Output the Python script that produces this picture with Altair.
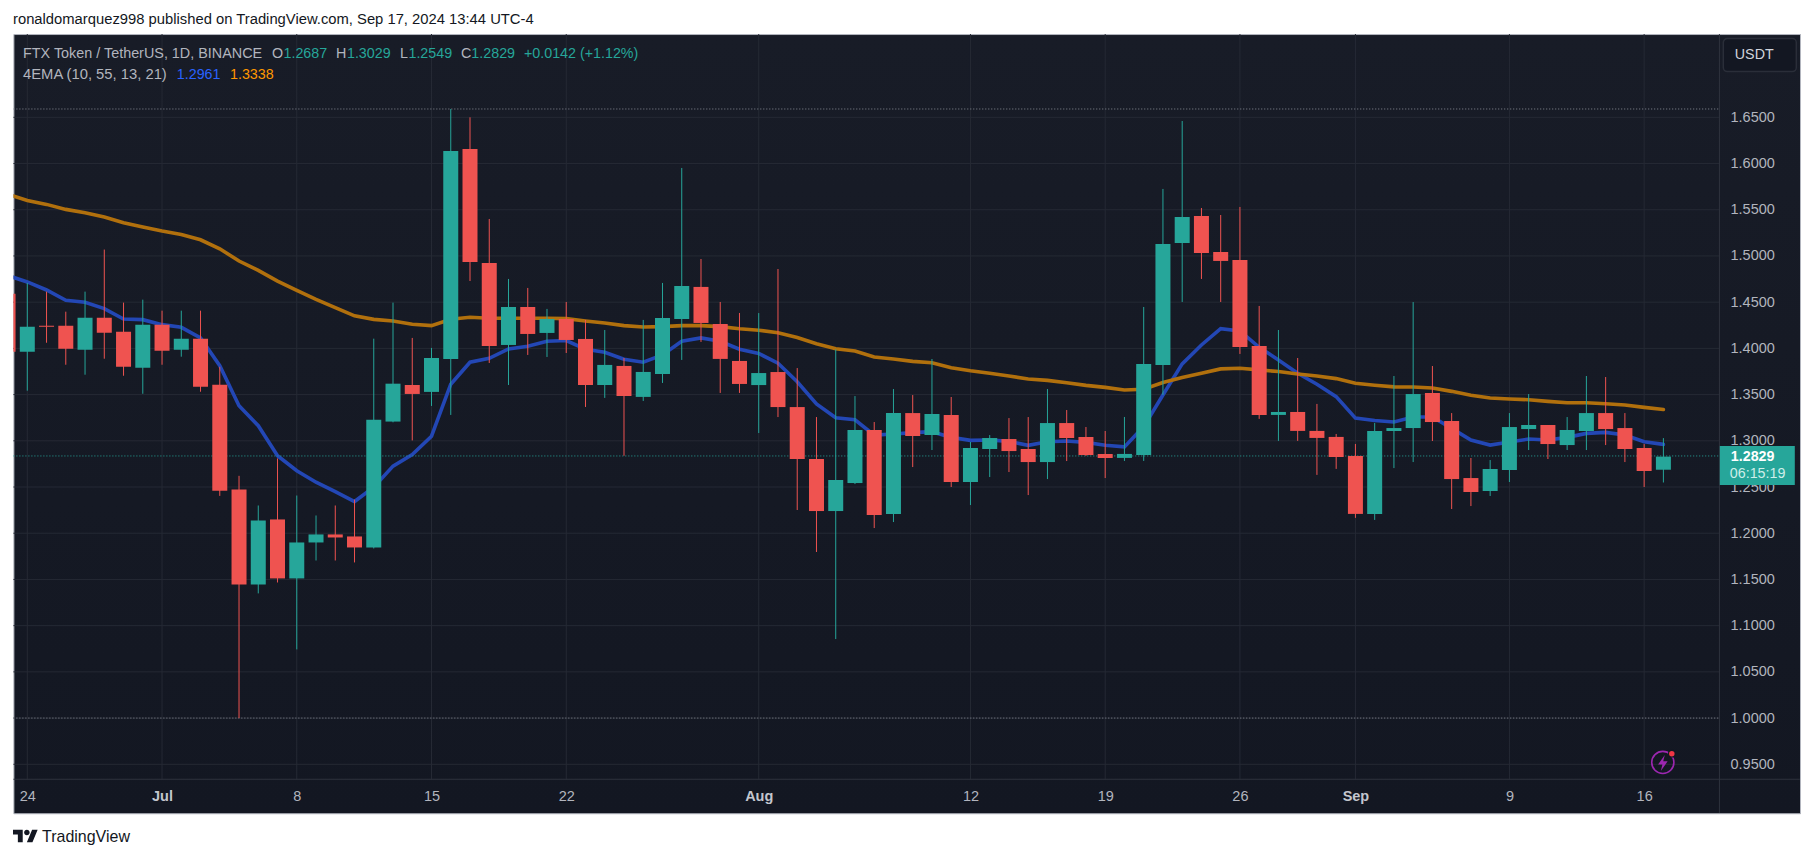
import altair as alt
import pandas as pd

# day number, 0 = 24 Jun 2024
days = list(range(-1, 86))
opens = [1.4592,1.3964,1.4245,1.4245,1.3986,1.4332,1.4181,1.3791,1.4256,1.3986,
         1.4105,1.3607,1.2473,1.1446,1.2149,1.1511,1.1900,1.1987,1.1965,1.1846,
         1.3208,1.3604,1.3529,1.3886,1.6157,1.4924,1.4037,1.4448,1.4167,1.4318,
         1.4102,1.3604,1.3810,1.3475,1.3723,1.4318,1.4665,1.4264,1.3864,1.3603,
         1.3744,1.3365,1.2803,1.2240,1.2543,1.3117,1.2208,1.3300,1.3063,1.3279,
         1.2554,1.2911,1.3019,1.2911,1.2770,1.3192,1.3041,1.2857,1.2815,1.2847,
         1.3821,1.5141,1.5433,1.5043,1.4957,1.4026,1.3280,1.3312,1.3107,1.3042,
         1.2836,1.2209,1.3106,1.3138,1.3517,1.3214,1.2597,1.2457,1.2684,1.3127,
         1.3171,1.2954,1.3106,1.3300,1.3138,1.2922,1.2687]
highs = [1.4592,1.4708,1.4614,1.4397,1.4614,1.5069,1.4495,1.4527,1.4408,1.4408,
         1.4408,1.3801,1.2621,1.2300,1.2809,1.2408,1.2192,1.2300,1.2364,1.4105,
         1.4495,1.4113,1.4005,1.6590,1.6500,1.5400,1.4751,1.4654,1.4427,1.4502,
         1.4308,1.4199,1.3896,1.4308,1.4708,1.5952,1.4967,1.4502,1.4383,1.4382,
         1.4859,1.3787,1.3257,1.3989,1.3484,1.3203,1.3560,1.3495,1.3885,1.3474,
         1.2987,1.3062,1.3246,1.3257,1.3560,1.3333,1.3149,1.3106,1.3258,1.4448,
         1.5725,1.6460,1.5519,1.5443,1.5530,1.4459,1.4199,1.3896,1.3399,1.3074,
         1.2966,1.3193,1.3701,1.4501,1.3809,1.3300,1.2814,1.2792,1.3300,1.3506,
         1.3171,1.3257,1.3701,1.3690,1.3300,1.2965,1.3029]
lows = [1.3964,1.3542,1.4061,1.3823,1.3715,1.3888,1.3704,1.3509,1.3823,1.3910,
        1.3531,1.2404,1.0000,1.1349,1.1467,1.0743,1.1705,1.1705,1.1684,1.1835,
        1.3200,1.3004,1.3377,1.3280,1.4729,1.3842,1.3604,1.3929,1.3907,1.3950,
        1.3366,1.3464,1.2838,1.3431,1.3626,1.3875,1.4070,1.3518,1.3518,1.3084,
        1.3257,1.2251,1.1797,1.0855,1.2532,1.2056,1.2121,1.2716,1.2900,1.2500,
        1.2305,1.2608,1.2662,1.2413,1.2586,1.2781,1.2835,1.2597,1.2782,1.2782,
        1.3496,1.4502,1.4751,1.4502,1.3940,1.3237,1.2999,1.2999,1.2631,1.2696,
        1.2166,1.2144,1.2705,1.2770,1.2998,1.2262,1.2294,1.2403,1.2554,1.2900,
        1.2803,1.2900,1.2900,1.2954,1.2770,1.2500,1.2549]
closes = [1.3964,1.4235,1.4235,1.3996,1.4332,1.4170,1.3801,1.4256,1.3975,1.4105,
          1.3585,1.2459,1.1446,1.2138,1.1511,1.1900,1.1987,1.1954,1.1846,1.3229,
          1.3618,1.3507,1.3896,1.6136,1.4935,1.4026,1.4448,1.4156,1.4318,1.4091,
          1.3604,1.3821,1.3485,1.3745,1.4329,1.4675,1.4275,1.3886,1.3615,1.3733,
          1.3365,1.2803,1.2240,1.2576,1.3117,1.2197,1.3300,1.3052,1.3290,1.2554,
          1.2922,1.3030,1.2889,1.2770,1.3192,1.3030,1.2846,1.2814,1.2858,1.3832,
          1.5130,1.5422,1.5031,1.4946,1.4015,1.3280,1.3312,1.3107,1.3031,1.2825,
          1.2209,1.3107,1.3138,1.3506,1.3203,1.2586,1.2446,1.2695,1.3149,1.3171,
          1.2965,1.3117,1.3300,1.3127,1.2911,1.2673,1.2829]
ema_fast = [1.4787,1.4719,1.4632,1.4520,1.4499,1.4430,1.4318,1.4311,1.4257,1.4228,
            1.4113,1.3813,1.3379,1.3163,1.2838,1.2676,1.2552,1.2451,1.2343,1.2499,
            1.2726,1.2852,1.3050,1.3612,1.3850,1.3893,1.3994,1.4023,1.4077,1.4085,
            1.3991,1.3958,1.3882,1.3850,1.3929,1.4077,1.4113,1.4077,1.3991,1.3945,
            1.3840,1.3639,1.3398,1.3250,1.3228,1.3062,1.3073,1.3088,1.3099,1.3037,
            1.3005,1.3008,1.2994,1.2951,1.2990,1.2998,1.2983,1.2951,1.2934,1.3154,
            1.3496,1.3832,1.4037,1.4214,1.4189,1.4012,1.3875,1.3731,1.3612,1.3478,
            1.3245,1.3220,1.3204,1.3257,1.3257,1.3135,1.3008,1.2954,1.2987,1.3019,
            1.3008,1.3037,1.3080,1.3091,1.3062,1.2990,1.2961]
ema_slow = [1.5666,1.5601,1.5558,1.5504,1.5468,1.5421,1.5359,1.5312,1.5269,1.5233,
            1.5175,1.5078,1.4945,1.4844,1.4728,1.4627,1.4530,1.4440,1.4352,1.4314,
            1.4296,1.4261,1.4246,1.4315,1.4336,1.4326,1.4326,1.4326,1.4326,1.4322,
            1.4297,1.4275,1.4246,1.4232,1.4235,1.4246,1.4246,1.4235,1.4213,1.4196,
            1.4170,1.4118,1.4050,1.3996,1.3971,1.3906,1.3885,1.3859,1.3845,1.3791,
            1.3758,1.3730,1.3701,1.3668,1.3654,1.3629,1.3600,1.3578,1.3550,1.3557,
            1.3630,1.3684,1.3731,1.3778,1.3785,1.3767,1.3749,1.3723,1.3702,1.3673,
            1.3622,1.3601,1.3584,1.3582,1.3571,1.3535,1.3492,1.3463,1.3452,1.3445,
            1.3427,1.3412,1.3412,1.3401,1.3387,1.3362,1.3338]

tick_days = [0, 7, 14, 21, 28, 38, 49, 56, 63, 69, 77, 84]
tick_labels = ["24", "Jul", "8", "15", "22", "Aug", "12", "19", "26", "Sep", "9", "16"]
month_days = [7, 38, 69]
price_ticks = [0.95, 1.0, 1.05, 1.1, 1.15, 1.2, 1.25, 1.3, 1.35, 1.4, 1.45, 1.5, 1.55, 1.6, 1.65]
period_high = 1.6590
period_low = 1.0000
last_price = 1.2836

FONT = "Liberation Sans"
UP, DOWN = "#26a69a", "#ef5350"
GRID = "#252934"
OX, OY = 13.4, 34.0
PANE_W, PANE_H = 1706.2, 745.3
FRAME_W, FRAME_H = 1786.8, 779.3


def px(X):
    return X - OX


def py(Y):
    return Y - OY


candles = pd.DataFrame({"day": days, "o": opens, "h": highs, "l": lows, "c": closes,
                        "fast": ema_fast, "slow": ema_slow})
candles["dir"] = ["up" if c >= o else "down" for o, c in zip(opens, closes)]

x_scale = alt.Scale(domain=[-0.722, 87.91], range=[0, PANE_W], nice=False, zero=False, padding=0)
y_scale = alt.Scale(domain=[0.9338, 1.7401], range=[PANE_H, 0], nice=False, zero=False, padding=0)
color_scale = alt.Scale(domain=["up", "down"], range=[UP, DOWN])

label_expr = "[" + ",".join(f"'{t}'" for t in tick_labels) + "][indexof(" + str(tick_days) + ",datum.value)]"
month_test = "indexof(" + str(month_days) + ",datum.value)>=0"

x_axis = alt.Axis(values=tick_days, labelExpr=label_expr, title=None, grid=False,
                  domain=False, ticks=False, offset=-(FRAME_H - PANE_H),
                  labelFont=FONT, labelFontSize=14.5, labelPadding=10, labelFlush=False,
                  labelOverlap=False,
                  labelColor=alt.expr(month_test + "?'#c3c6ce':'#b2b5be'"),
                  labelFontWeight=alt.expr(month_test + "?'bold':'normal'"))
y_axis = alt.Axis(values=price_ticks, format=".4f", title=None, orient="right", grid=False,
                  domain=False, ticks=False,
                  offset=-(FRAME_W - PANE_W), labelFont=FONT, labelFontSize=14.5,
                  labelColor="#b2b5be", labelPadding=10.6, labelAlign="left",
                  labelOverlap=False, labelFlush=False)

X = alt.X("day:Q", scale=x_scale, axis=x_axis)


def price(field):
    return alt.Y(field, scale=y_scale, axis=y_axis)


base = alt.Chart(candles)

# the pane's grid: the axes sit inside the frame, so their own grids would be pushed off the pane
grid_h = alt.Chart(pd.DataFrame({"p": price_ticks})).mark_rule(color=GRID, strokeWidth=1).encode(
    y=price("p:Q"), x=alt.value(0), x2=alt.value(PANE_W))
grid_v = alt.Chart(pd.DataFrame({"day": tick_days})).mark_rule(color=GRID, strokeWidth=1).encode(
    x=X, y=alt.value(0), y2=alt.value(PANE_H))

ema_fast_line = base.mark_line(color="#2347b5", strokeWidth=3.6, clip=True, strokeCap="round").encode(
    x=X, y=price("fast:Q"))
ema_slow_line = base.mark_line(color="#b1700d", strokeWidth=3.6, clip=True, strokeCap="round").encode(
    x=X, y=price("slow:Q"))
wicks = base.mark_rule(strokeWidth=1, clip=True).encode(
    x=X, y=price("l:Q"), y2="h:Q",
    color=alt.Color("dir:N", scale=color_scale, legend=None))
bodies = base.mark_bar(size=15, clip=True).encode(
    x=X, y=price("o:Q"), y2="c:Q",
    color=alt.Color("dir:N", scale=color_scale, legend=None))


def level(value, color):
    return alt.Chart(pd.DataFrame({"p": [value]})).mark_rule(
        color=color, strokeWidth=1, strokeDash=[1, 2]).encode(
        y=price("p:Q"), x=alt.value(0), x2=alt.value(PANE_W))


def text(t, X_, Y_, color, size=14.3, weight="normal", align="left", font=FONT):
    return alt.Chart(pd.DataFrame({"t": [t]})).mark_text(
        color=color, fontSize=size, fontWeight=weight, align=align, baseline="middle", font=font
    ).encode(x=alt.value(px(X_)), y=alt.value(py(Y_)), text="t:N")


def rule(x1, y1, x2, y2, color="#2a2e39"):
    return alt.Chart(pd.DataFrame({"a": [0]})).mark_rule(color=color, strokeWidth=1).encode(
        x=alt.value(px(x1)), x2=alt.value(px(x2)), y=alt.value(py(y1)), y2=alt.value(py(y2)))


def box(x1, y1, x2, y2, fill, stroke=None, radius=0):
    kw = {"stroke": stroke, "strokeWidth": 1.5} if stroke else {}
    return alt.Chart(pd.DataFrame({"a": [0]})).mark_rect(fill=fill, cornerRadius=radius, **kw).encode(
        x=alt.value(px(x1)), x2=alt.value(px(x2)), y=alt.value(py(y1)), y2=alt.value(py(y2)))


def glyph(shape, X_, Y_, size, fill=None, stroke=None, sw=0):
    kw = {}
    if fill:
        kw["fill"] = fill
        kw["filled"] = True
    if stroke:
        kw["stroke"] = stroke
        kw["strokeWidth"] = sw
    return alt.Chart(pd.DataFrame({"a": [0]})).mark_point(shape=shape, size=size, opacity=1, **kw).encode(
        x=alt.value(px(X_)), y=alt.value(py(Y_)))


LOGO = ("M-0.222,0.5 L-0.611,0.5 L-0.611,-0.111 L-1,-0.111 L-1,-0.5 L-0.222,-0.5 Z "
        "M0.556,0.5 L0.111,0.5 L0.528,-0.5 L0.972,-0.5 Z "
        "M-0.111,-0.278 a0.222,0.222 0 1 0 0.444,0 a0.222,0.222 0 1 0 -0.444,0 Z")
BOLT = "M0.25,-1 L-0.6,0.2 L-0.05,0.2 L-0.25,1 L0.6,-0.2 L0.05,-0.2 Z"

GREY = "#b2b5be"
layers = [
    grid_h, grid_v,
    ema_fast_line, ema_slow_line,
    level(period_high, "#8a8d97"), level(period_low, "#8a8d97"), level(last_price, UP),
    wicks, bodies,
    rule(13.4, 779.3, 1800, 779.3, "#2f333e"),
    rule(1719.6, 34, 1719.6, 813, "#2f333e"),
    box(1723.5, 38.5, 1796.5, 71.5, "#131722", "#2a2e39", 4),
    text("USDT", 1735, 55, "#d1d4dc", 14.3),
    box(1720, 446, 1795, 485, UP),
    text("1.2829", 1731, 457, "#ffffff", 14.3, "bold"),
    text("06:15:19", 1730, 474, "#cfeee9", 14.3),
    glyph("circle", 1663, 762.5, 491, stroke="#9c27b0", sw=1.6),
    glyph(BOLT, 1663, 763, 256, fill="#9c27b0"),
    glyph("circle", 1672, 753.7, 60, fill="#131722"),
    glyph("circle", 1672, 753.7, 30, fill="#f23645"),
    text("ronaldomarquez998 published on TradingView.com, Sep 17, 2024 13:44 UTC-4", 13, 20, "#131722", 14.8),
    text("FTX Token / TetherUS, 1D, BINANCE", 23, 54, GREY, 14.4),
    text("O", 272, 54, GREY), text("1.2687", 283.5, 54, UP),
    text("H", 336, 54, GREY), text("1.3029", 347, 54, UP),
    text("L", 400, 54, GREY), text("1.2549", 408.5, 54, UP),
    text("C", 461, 54, GREY), text("1.2829", 471.4, 54, UP),
    text("+0.0142 (+1.12%)", 524, 54, UP),
    text("4EMA (10, 55, 13, 21)", 23, 75, GREY, 14.8),
    text("1.2961", 176.8, 75, "#2962ff"),
    text("1.3338", 230, 75, "#ff9800"),
    glyph(LOGO, 25.5, 836, 625, fill="#131722"),
    text("TradingView", 42, 837, "#131722", 16),
]

GRADIENT = ("{gradient:'linear',x1:0,x2:0,y1:0,y2:1,"
            "stops:[{offset:0,color:'#181c27'},{offset:1,color:'#131722'}]}")

chart = alt.layer(*layers).resolve_scale(color="shared").properties(
    width=FRAME_W,
    height=FRAME_H,
    padding={"left": OX - 8, "top": OY - 8, "right": 6, "bottom": 36},
    autosize=alt.AutoSizeParams(type="none", contains="content"),
    background="#ffffff",
    view=alt.ViewBackground(fill=alt.expr(GRADIENT), stroke="#b2b5be", strokeWidth=1),
)

chart.save("out.html", embed_options={"renderer": "svg", "actions": False})
